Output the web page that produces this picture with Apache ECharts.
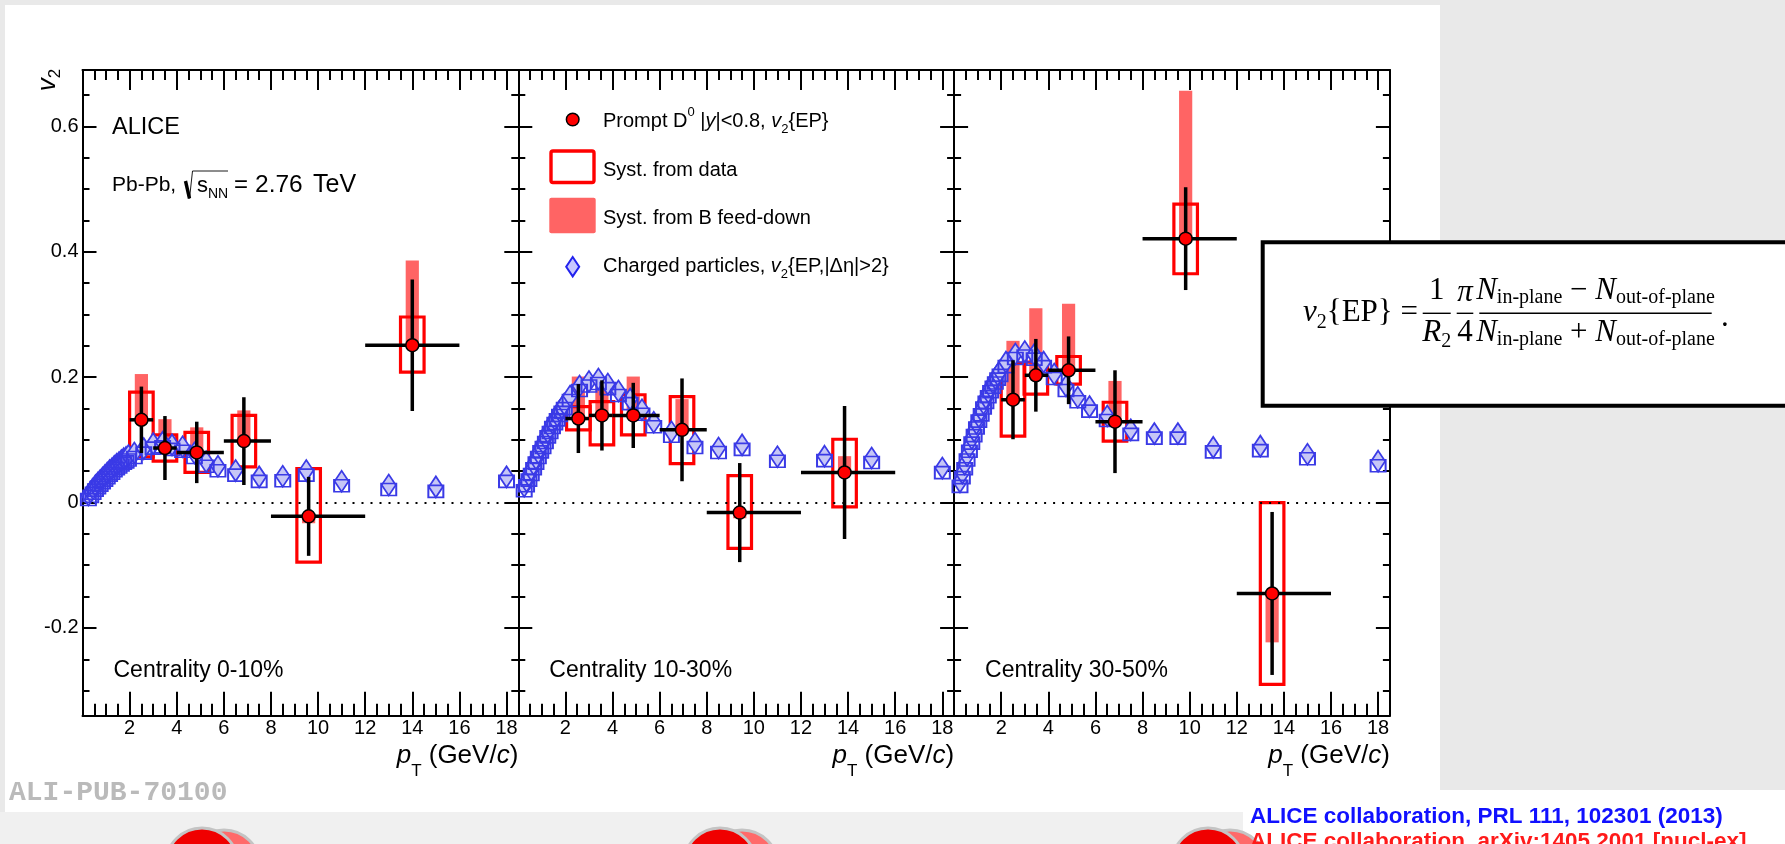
<!DOCTYPE html>
<html>
<head>
<meta charset="utf-8">
<script src="https://cdn.jsdelivr.net/npm/echarts@6/dist/echarts.min.js"></script>
<style>
  html, body { margin: 0; padding: 0; background: #e9e9e9; }
  #chart { width: 1785px; height: 844px; }
</style>
</head>
<body>
<div id="chart"></div>
<script>
// ---------------- data ----------------
// pT bins of the prompt D0 measurement (GeV/c)
const binLo = [2, 3, 4, 6, 8, 12];
const binHi = [3, 4, 6, 8, 12, 16];

// Prompt D0 v2{EP}, centrality 0-10%
const d0Pt_0_10     = [2.5, 3.5, 4.85, 6.85, 9.6, 14.0];
const d0V2_0_10     = [0.132, 0.087, 0.080, 0.098, -0.022, 0.251];
const d0Stat_0_10   = [0.053, 0.051, 0.049, 0.070, 0.063, 0.105];
const d0SystLo_0_10 = [0.073, 0.066, 0.048, 0.057, -0.095, 0.208];
const d0SystHi_0_10 = [0.176, 0.108, 0.112, 0.139, 0.054, 0.296];
const d0Feed_0_10   = [0.205, 0.133, 0.120, 0.147, -0.033, 0.386];

// Prompt D0 v2{EP}, centrality 10-30%
const d0Pt_10_30     = [2.55, 3.55, 4.88, 6.95, 9.4, 13.85];
const d0V2_10_30     = [0.134, 0.139, 0.139, 0.116, -0.016, 0.048];
const d0Stat_10_30   = [0.055, 0.056, 0.052, 0.082, 0.079, 0.106];
const d0SystLo_10_30 = [0.116, 0.092, 0.108, 0.062, -0.073, -0.007];
const d0SystHi_10_30 = [0.153, 0.161, 0.172, 0.169, 0.043, 0.101];
const d0Feed_10_30   = [0.201, 0.190, 0.201, 0.165, -0.025, 0.074];

// Prompt D0 v2{EP}, centrality 30-50%
const d0Pt_30_50     = [2.5, 3.47, 4.86, 6.83, 9.83, 13.5];
const d0V2_30_50     = [0.164, 0.203, 0.211, 0.129, 0.421, -0.145];
const d0Stat_30_50   = [0.063, 0.058, 0.054, 0.082, 0.082, 0.130];
const d0SystLo_30_50 = [0.106, 0.173, 0.189, 0.098, 0.365, -0.290];
const d0SystHi_30_50 = [0.222, 0.224, 0.233, 0.160, 0.476, 0.000];
const d0Feed_30_50   = [0.258, 0.310, 0.317, 0.194, 0.657, -0.223];

// Charged particles v2{EP,|Δη|>2}
const chPt = [0.25, 0.35, 0.45, 0.55, 0.65, 0.75, 0.85, 0.95, 1.05, 1.15, 1.25, 1.35, 1.45, 1.55, 1.65, 1.75, 1.85, 1.95,
              2.2, 2.6, 3.0, 3.4, 3.8, 4.25, 4.75, 5.25, 5.75, 6.5, 7.5, 8.5, 9.5, 11, 13, 15, 18];
const chV2_0_10  = [0.012, 0.017, 0.022, 0.027, 0.031, 0.035, 0.039, 0.043, 0.047, 0.051, 0.054, 0.058, 0.061, 0.064, 0.067, 0.070, 0.072, 0.075,
                    0.079, 0.086, 0.094, 0.096, 0.092, 0.089, 0.079, 0.065, 0.058, 0.051, 0.041, 0.042, 0.051, 0.034, 0.028, 0.025, 0.041];
const chV2_10_30 = [0.026, 0.034, 0.043, 0.052, 0.061, 0.070, 0.079, 0.088, 0.095, 0.103, 0.112, 0.119, 0.127, 0.133, 0.139, 0.146, 0.151, 0.157,
                    0.170, 0.186, 0.193, 0.197, 0.189, 0.178, 0.165, 0.148, 0.128, 0.113, 0.095, 0.087, 0.092, 0.073, 0.074, 0.071, 0.055];
const chV2_30_50 = [0.033, 0.047, 0.061, 0.075, 0.089, 0.102, 0.114, 0.126, 0.137, 0.147, 0.158, 0.167, 0.176, 0.184, 0.191, 0.198, 0.204, 0.210,
                    0.224, 0.237, 0.241, 0.236, 0.224, 0.205, 0.186, 0.168, 0.153, 0.138, 0.116, 0.110, 0.110, 0.088, 0.090, 0.077, 0.066];

// axis tick labels
const xTickLabels = [2, 4, 6, 8, 10, 12, 14, 16, 18];
const yTickLabels = [-0.2, 0, 0.2, 0.4, 0.6];
const centralityLabels = ['Centrality 0-10%', 'Centrality 10-30%', 'Centrality 30-50%'];

// ---------------- layout & style ----------------
const SANS = 'Liberation Sans, Arial, Helvetica, sans-serif';
const SERIF = 'Liberation Serif, Times New Roman, serif';
const MONO = 'Liberation Mono, Courier New, monospace';
const X_MIN = 0, X_MAX = 18.5, Y_MIN = -0.34, Y_MAX = 0.69;
const GRID_LEFT = [82.5, 518.3, 954.1];
const GRID_TOP = 70, GRID_W = 435.8, GRID_H = 645.7;
const BOX_HALF = 0.5;      // half width of the data-syst boxes (GeV/c)
const FEED_HALF = 0.28;    // half width of the feed-down bands (GeV/c)
const RED = '#ff0000', PINK = '#ff6464';

const panels = [
  { pt: d0Pt_0_10,  v2: d0V2_0_10,  stat: d0Stat_0_10,  lo: d0SystLo_0_10,  hi: d0SystHi_0_10,  fd: d0Feed_0_10,  ch: chV2_0_10 },
  { pt: d0Pt_10_30, v2: d0V2_10_30, stat: d0Stat_10_30, lo: d0SystLo_10_30, hi: d0SystHi_10_30, fd: d0Feed_10_30, ch: chV2_10_30 },
  { pt: d0Pt_30_50, v2: d0V2_30_50, stat: d0Stat_30_50, lo: d0SystLo_30_50, hi: d0SystHi_30_50, fd: d0Feed_30_50, ch: chV2_30_50 }
];

// tick positions
const xMajor = [0].concat(xTickLabels);
const xMinor = [];
for (let k = 1; k <= 37; k++) if (k % 4 !== 0) xMinor.push(k * 0.5);
const yMinor = [];
for (let k = -6; k <= 13; k++) if (k % 4 !== 0) yMinor.push(Math.round(k * 5) / 100);

function xAxisDef(g, position, ticks, len, labels, line) {
  return {
    type: 'value', gridIndex: g, position: position, min: X_MIN, max: X_MAX,
    axisLine: { show: line, onZero: false, lineStyle: { color: '#000', width: 2 } },
    axisTick: { show: true, inside: true, length: len, customValues: ticks, lineStyle: { color: '#000', width: 2 } },
    axisLabel: labels ? { show: true, customValues: xTickLabels, margin: 3, color: '#000', fontSize: 20, fontFamily: SANS }
                      : { show: false },
    splitLine: { show: false }
  };
}
function yAxisDef(g, position, ticks, len, labels, line) {
  return {
    type: 'value', gridIndex: g, position: position, min: Y_MIN, max: Y_MAX,
    axisLine: { show: line, onZero: false, lineStyle: { color: '#000', width: 2 } },
    axisTick: { show: true, inside: true, length: len, customValues: ticks, lineStyle: { color: '#000', width: 2 } },
    axisLabel: labels ? { show: true, customValues: yTickLabels, margin: 4, color: '#000', fontSize: 20, fontFamily: SANS,
                          formatter: v => (Math.abs(v) < 1e-9 ? '0' : String(v)) }
                      : { show: false },
    splitLine: { show: false }
  };
}

const grids = [], xAxes = [], yAxes = [], series = [];
panels.forEach((p, g) => {
  grids.push({ left: GRID_LEFT[g], top: GRID_TOP, width: GRID_W, height: GRID_H, containLabel: false, outerBoundsMode: 'none' });
  xAxes.push(xAxisDef(g, 'bottom', xMajor, 24, true, true));
  xAxes.push(xAxisDef(g, 'bottom', xMinor, 12, false, false));
  xAxes.push(xAxisDef(g, 'top', xMajor, 20, false, true));
  xAxes.push(xAxisDef(g, 'top', xMinor, 10, false, false));
  yAxes.push(yAxisDef(g, 'left', yTickLabels, 14, g === 0, true));
  yAxes.push(yAxisDef(g, 'left', yMinor, 7, false, false));
  yAxes.push(yAxisDef(g, 'right', yTickLabels, 14, false, true));
  yAxes.push(yAxisDef(g, 'right', yMinor, 7, false, false));

  const xi = 4 * g, yi = 4 * g;

  // B feed-down systematic band
  series.push({
    type: 'custom', xAxisIndex: xi, yAxisIndex: yi, z: 1, silent: true,
    data: p.pt.map((x, i) => [x, p.v2[i], p.fd[i]]),
    encode: { x: 0, y: 1 },
    renderItem: (params, api) => {
      const x = api.value(0), v = api.value(1), f = api.value(2);
      const a = api.coord([x - FEED_HALF, Math.max(v, f)]);
      const b = api.coord([x + FEED_HALF, Math.min(v, f)]);
      return { type: 'rect', shape: { x: a[0], y: a[1], width: b[0] - a[0], height: b[1] - a[1] }, style: { fill: PINK } };
    }
  });
  // systematic boxes from data
  series.push({
    type: 'custom', xAxisIndex: xi, yAxisIndex: yi, z: 2, silent: true,
    data: p.pt.map((x, i) => [x, p.v2[i], p.lo[i], p.hi[i]]),
    encode: { x: 0, y: 1 },
    renderItem: (params, api) => {
      const x = api.value(0);
      const a = api.coord([x - BOX_HALF, api.value(3)]);
      const b = api.coord([x + BOX_HALF, api.value(2)]);
      return { type: 'rect', shape: { x: a[0], y: a[1], width: b[0] - a[0], height: b[1] - a[1] },
               style: { fill: 'none', stroke: RED, lineWidth: 3.2 } };
    }
  });
  // charged particles
  const chData = chPt.map((x, i) => [x, p.ch[i]]);
  series.push({
    type: 'scatter', xAxisIndex: xi, yAxisIndex: yi, z: 3, silent: true,
    data: chData, symbol: 'diamond', symbolSize: [14, 21],
    itemStyle: { color: '#c6c6f6', borderColor: '#3a3ae6', borderWidth: 1.8, opacity: 1 },
    markLine: {
      silent: true, symbol: ['none', 'none'], label: { show: false }, animation: false,
      lineStyle: { color: '#000', type: [2, 7], width: 2 },
      data: [{ yAxis: 0 }]
    }
  });
  series.push({
    type: 'scatter', xAxisIndex: xi, yAxisIndex: yi, z: 3, silent: true,
    data: chData, symbol: 'rect', symbolSize: [15, 12], symbolOffset: [0, 4.5],
    itemStyle: { color: 'rgba(0,0,0,0)', borderColor: '#3a3ae6', borderWidth: 1.8, opacity: 1 }
  });
  // statistical error bars and bin widths
  series.push({
    type: 'custom', xAxisIndex: xi, yAxisIndex: yi, z: 4, silent: true,
    data: p.pt.map((x, i) => [x, p.v2[i], p.stat[i], binLo[i], binHi[i]]),
    encode: { x: 0, y: 1 },
    renderItem: (params, api) => {
      const x = api.value(0), v = api.value(1), e = api.value(2);
      const t = api.coord([x, v + e]), b = api.coord([x, v - e]);
      const l = api.coord([api.value(3), v]), r = api.coord([api.value(4), v]);
      const st = { stroke: '#000', lineWidth: 3.5 };
      return { type: 'group', children: [
        { type: 'line', shape: { x1: t[0], y1: t[1], x2: b[0], y2: b[1] }, style: st },
        { type: 'line', shape: { x1: l[0], y1: l[1], x2: r[0], y2: r[1] }, style: st }
      ] };
    }
  });
  // prompt D0 points
  series.push({
    type: 'scatter', xAxisIndex: xi, yAxisIndex: yi, z: 5, silent: true,
    data: p.pt.map((x, i) => [x, p.v2[i]]), symbol: 'circle', symbolSize: 13,
    itemStyle: { color: RED, borderColor: '#000', borderWidth: 1.5, opacity: 1 }
  });
});

// ---------------- text helpers ----------------
function tok(size, extra) {
  return Object.assign({ fontSize: size, fontFamily: SANS, fontStyle: 'normal', fontWeight: 'normal', fill: '#000', color: '#000' }, extra || {});
}
function label(x, y, text, size, opts) {
  opts = opts || {};
  return {
    type: 'text', x: x, y: y, z: opts.z || 50, silent: true, rotation: opts.rotation || 0,
    style: Object.assign({
      x: 0, y: 0, text: text, fontSize: size, fontFamily: opts.family || SANS,
      fontStyle: opts.fontStyle || 'normal', fontWeight: opts.fontWeight || 'normal',
      fill: opts.fill || '#000',
      align: opts.align || 'left', textAlign: opts.align || 'left',
      verticalAlign: 'middle', textVerticalAlign: 'middle',
      lineHeight: opts.lineHeight, rich: opts.rich
    })
  };
}
// rich styles with sub/superscripts offset by d pixels from the main line centre
function richSet(size, subSize, d, family) {
  const L = 2 * d + subSize;
  family = family || SANS;
  return {
    L: L,
    rich: {
      n:   tok(size, { lineHeight: L, fontFamily: family }),
      i:   tok(size, { lineHeight: L, fontFamily: family, fontStyle: 'italic' }),
      sub: tok(subSize, { lineHeight: subSize, verticalAlign: 'bottom', fontFamily: family }),
      sup: tok(subSize, { lineHeight: subSize, verticalAlign: 'top', fontFamily: family })
    }
  };
}

const legRich = richSet(20, 13, 8.5);
const ptRich = richSet(26, 17, 15);
const formSubRich = richSet(31, 20, 7, SERIF);
const formIdxRich = richSet(31, 20, 9, SERIF);

const elements = [];
// page background pieces
elements.push({ type: 'rect', z: -100, silent: true, shape: { x: 5, y: 5, width: 1435, height: 807 }, style: { fill: '#ffffff' } });
elements.push({ type: 'rect', z: -100, silent: true, shape: { x: 0, y: 812, width: 1243, height: 32 }, style: { fill: '#f0f0f0' } });
elements.push({ type: 'rect', z: -100, silent: true, shape: { x: 1243, y: 790, width: 542, height: 54 }, style: { fill: '#ffffff' } });

// ALICE logos along the lower edge
[210, 728, 1216].forEach(cx => {
  elements.push({ type: 'circle', z: -90, silent: true, shape: { cx: cx + 14, cy: 866, r: 36 }, style: { fill: '#ff6a6a', stroke: '#c4c4c4', lineWidth: 3 } });
  elements.push({ type: 'circle', z: -89, silent: true, shape: { cx: cx - 8, cy: 864, r: 36 }, style: { fill: '#f00000', stroke: '#c4c4c4', lineWidth: 3 } });
});

// y-axis title
elements.push(label(48, 80, '{i|v}{sub|2}', 26, { rotation: Math.PI / 2, align: 'center', rich: richSet(26, 17, 7).rich, lineHeight: 31 }));
// x-axis titles
GRID_LEFT.forEach(l => {
  elements.push(label(l + GRID_W, 756, '{i|p}{sub|T}{n| (GeV/}{i|c}{n|)}', 26, { align: 'right', rich: ptRich.rich, lineHeight: ptRich.L }));
});
// centrality labels
GRID_LEFT.forEach((l, g) => elements.push(label(l + 31, 670.5, centralityLabels[g], 23)));

// collision system
elements.push(label(112, 127.5, 'ALICE', 23.5));
elements.push(label(112, 185.5, 'Pb-Pb,', 21));
elements.push(label(197, 185.5, '{n|s}{sub|NN}', 22, { rich: richSet(22, 14, 9).rich, lineHeight: 32 }));
elements.push(label(234, 185.5, '=', 24));
elements.push(label(255, 185.5, '2.76', 24.5));
elements.push(label(313, 185.5, 'TeV', 25));
elements.push({ type: 'polyline', z: 50, silent: true, shape: { points: [[185.5, 181], [189.5, 198.5]] }, style: { stroke: '#000', lineWidth: 3.4 } });
elements.push({ type: 'polyline', z: 50, silent: true, shape: { points: [[189.5, 198.5], [192.5, 171], [228, 171]] }, style: { stroke: '#000', lineWidth: 0.9 } });

// legend
elements.push({ type: 'circle', z: 50, silent: true, shape: { cx: 572.7, cy: 119.5, r: 6.3 }, style: { fill: RED, stroke: '#000', lineWidth: 1.5 } });
elements.push(label(603, 121, 'Prompt D{sup|0} |{i|y}|<0.8, {i|v}{sub|2}{EP}', 20, { rich: legRich.rich, lineHeight: legRich.L }));
elements.push({ type: 'rect', z: 50, silent: true, shape: { x: 551, y: 151, width: 43, height: 31.5, r: 2 }, style: { fill: 'none', stroke: RED, lineWidth: 3.4 } });
elements.push(label(603, 170, 'Syst. from data', 20));
elements.push({ type: 'rect', z: 50, silent: true, shape: { x: 549.3, y: 197.7, width: 46.4, height: 35.6, r: 2 }, style: { fill: PINK } });
elements.push(label(603, 218, 'Syst. from B feed-down', 20));
elements.push({ type: 'polygon', z: 50, silent: true, shape: { points: [[572.7, 257], [579.2, 266.7], [572.7, 276.4], [566.2, 266.7]] }, style: { fill: '#c8c8ff', stroke: '#2222ee', lineWidth: 2 } });
elements.push(label(603, 266, 'Charged particles, {i|v}{sub|2}{EP,|Δη|>2}', 20, { rich: legRich.rich, lineHeight: legRich.L }));

// event-plane formula box
elements.push({ type: 'rect', z: 100, silent: true, shape: { x: 1262.7, y: 242.3, width: 560, height: 163.4 }, style: { fill: '#fff', stroke: '#000', lineWidth: 4 } });
const fz = { z: 101, family: SERIF };
elements.push(label(1303, 313.3, '{i|v}{sub|2}{EP} =', 31, Object.assign({ rich: formIdxRich.rich, lineHeight: formIdxRich.L }, fz)));
elements.push(label(1436.7, 291.2, '1', 31, Object.assign({ align: 'center' }, fz)));
elements.push(label(1436.7, 332.8, '{i|R}{sub|2}', 31, Object.assign({ align: 'center', rich: formIdxRich.rich, lineHeight: formIdxRich.L }, fz)));
elements.push(label(1465, 293, 'π', 31, Object.assign({ align: 'center', fontStyle: 'italic' }, fz)));
elements.push(label(1465, 332.8, '4', 31, Object.assign({ align: 'center' }, fz)));
elements.push(label(1595.5, 291.2, '{i|N}{sub|in-plane}{n| − }{i|N}{sub|out-of-plane}', 31, Object.assign({ align: 'center', rich: formSubRich.rich, lineHeight: formSubRich.L }, fz)));
elements.push(label(1595.5, 332.8, '{i|N}{sub|in-plane}{n| + }{i|N}{sub|out-of-plane}', 31, Object.assign({ align: 'center', rich: formSubRich.rich, lineHeight: formSubRich.L }, fz)));
[[1422.7, 1450.7], [1456.7, 1473.3], [1479.3, 1711.7]].forEach(s => {
  elements.push({ type: 'line', z: 101, silent: true, shape: { x1: s[0], y1: 313.3, x2: s[1], y2: 313.3 }, style: { stroke: '#000', lineWidth: 1.4 } });
});
elements.push(label(1721, 318, '.', 31, fz));

// publication id and references
elements.push(label(9, 793, 'ALI-PUB-70100', 28, { family: MONO, fontWeight: 'bold', fill: '#bababa' }));
elements.push(label(1250, 817, 'ALICE collaboration, PRL 111, 102301 (2013)', 22.5, { fontWeight: 'bold', fill: '#1010ff' }));
elements.push(label(1250, 842, 'ALICE collaboration, arXiv:1405.2001 [nucl-ex]', 22.5, { fontWeight: 'bold', fill: '#ff1a1a' }));

const option = {
  animation: false,
  backgroundColor: '#e9e9e9',
  grid: grids,
  xAxis: xAxes,
  yAxis: yAxes,
  series: series,
  graphic: { elements: elements }
};

const chart = echarts.init(document.getElementById('chart'), null, { renderer: 'canvas', width: 1785, height: 844 });
chart.setOption(option);
</script>
</body>
</html>
